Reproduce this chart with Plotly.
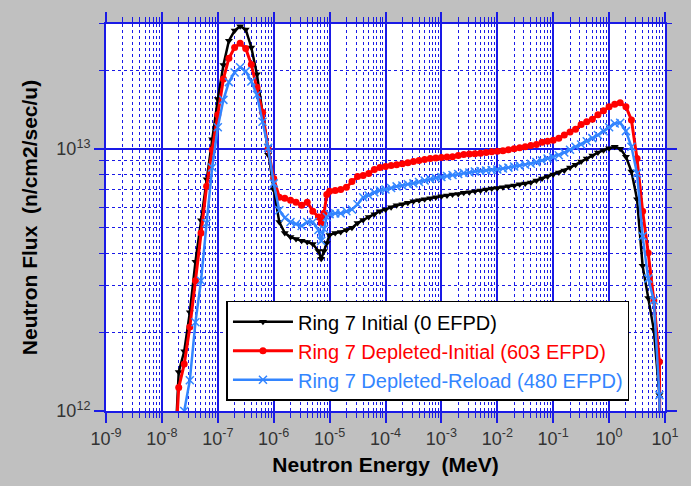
import plotly.graph_objects as go

# Neutron energy grid (MeV), ten points per decade plus two extra points around the 6.7 eV resonance dip
energy_mev = [
    1.58e-8, 2.00e-8, 2.51e-8, 3.16e-8, 3.98e-8, 5.01e-8, 6.31e-8, 7.94e-8,
    1.00e-7, 1.26e-7, 1.58e-7, 2.00e-7, 2.51e-7, 3.16e-7, 3.98e-7, 5.01e-7, 6.31e-7, 7.94e-7,
    1.00e-6, 1.26e-6, 1.58e-6, 2.00e-6, 2.51e-6, 3.16e-6, 3.98e-6, 5.01e-6, 6.31e-6, 7.08e-6, 7.94e-6, 8.91e-6,
    1.00e-5, 1.26e-5, 1.58e-5, 2.00e-5, 2.51e-5, 3.16e-5, 3.98e-5, 5.01e-5, 6.31e-5, 7.94e-5,
    1.00e-4, 1.26e-4, 1.58e-4, 2.00e-4, 2.51e-4, 3.16e-4, 3.98e-4, 5.01e-4, 6.31e-4, 7.94e-4,
    1.00e-3, 1.26e-3, 1.58e-3, 2.00e-3, 2.51e-3, 3.16e-3, 3.98e-3, 5.01e-3, 6.31e-3, 7.94e-3,
    1.00e-2, 1.26e-2, 1.58e-2, 2.00e-2, 2.51e-2, 3.16e-2, 3.98e-2, 5.01e-2, 6.31e-2, 7.94e-2,
    1.00e-1, 1.26e-1, 1.58e-1, 2.00e-1, 2.51e-1, 3.16e-1, 3.98e-1, 5.01e-1, 6.31e-1, 7.94e-1,
    1.00, 1.26, 1.58, 2.00, 2.51, 3.16, 3.98, 5.01, 6.31, 7.94, 8.51,
]

# Flux per unit lethargy, in units of 1e12 n/cm2/sec/u
FLUX_UNIT = 1e12

flux_initial = [
    0.5, 1.41, 1.69, 2.38, 3.71, 5.35, 7.67, 10.9,
    15.5, 20.9, 25.9, 28.3, 29.4, 28.6, 24.4, 19.3, 13.6, 9.51,
    7.01, 5.26, 4.78, 4.61, 4.53, 4.46, 4.42, 4.34, 4.08, 3.81, 4.08, 4.38,
    4.70, 4.78, 4.82, 4.91, 5.00, 5.22, 5.36, 5.50, 5.64, 5.79,
    5.88, 5.99, 6.10, 6.15, 6.24, 6.32, 6.37, 6.43, 6.48, 6.54,
    6.60, 6.65, 6.71, 6.74, 6.80, 6.83, 6.89, 6.95, 7.01, 7.07,
    7.10, 7.14, 7.20, 7.26, 7.33, 7.39, 7.45, 7.58, 7.72, 7.85,
    7.99, 8.14, 8.28, 8.49, 8.71, 8.95, 9.19, 9.44, 9.69, 9.90,
    10.07, 10.2, 10.03, 9.35, 8.20, 6.43, 3.58, 2.70, 2.04, 1.15, 0.2,
]

flux_depleted_initial = [
    0.5, 1.23, 1.51, 2.09, 3.14, 4.78, 7.20, 9.94,
    13.5, 18.5, 22.2, 24.4, 25.3, 24.2, 21.0, 17.2, 13.8, 10.0,
    7.72, 6.54, 6.48, 6.37, 6.26, 6.10, 6.26, 5.79, 5.50, 5.22, 5.68, 6.71,
    6.89, 6.95, 7.01, 7.14, 7.52, 7.85, 7.92, 8.06, 8.35, 8.49,
    8.57, 8.64, 8.71, 8.79, 8.87, 8.95, 9.03, 9.11, 9.19, 9.23,
    9.27, 9.31, 9.35, 9.44, 9.52, 9.56, 9.60, 9.64, 9.69, 9.77,
    9.81, 9.85, 9.94, 10.03, 10.11, 10.2, 10.3, 10.4, 10.6, 10.7,
    10.8, 11.0, 11.3, 11.6, 11.9, 12.4, 12.7, 13.0, 13.5, 14.0,
    14.5, 14.8, 15.0, 14.5, 12.9, 9.19, 5.79, 4.01, 2.64, 1.54, 0.2,
]

flux_depleted_reload = [
    0.1, 0.3, 1.0, 1.31, 2.18, 3.14, 5.21, 8.50,
    12.1, 15.4, 18.0, 19.6, 20.5, 19.8, 18.1, 16.1, 12.7, 10.1,
    7.39, 5.84, 5.46, 5.26, 5.17, 5.08, 5.26, 5.26, 4.91, 4.46, 4.95, 5.50,
    5.64, 5.68, 5.68, 5.79, 5.88, 6.15, 6.54, 6.65, 6.83, 6.95,
    7.01, 7.10, 7.20, 7.26, 7.33, 7.39, 7.48, 7.58, 7.68, 7.75,
    7.82, 7.89, 7.95, 8.03, 8.10, 8.13, 8.20, 8.24, 8.28, 8.31,
    8.35, 8.42, 8.49, 8.57, 8.64, 8.71, 8.79, 8.91, 9.03, 9.19,
    9.31, 9.47, 9.69, 9.94, 10.2, 10.4, 10.7, 11.0, 11.3, 11.7,
    12.1, 12.5, 12.6, 11.7, 10.2, 8.06, 4.65, 3.20, 2.64, 1.15, 0.2,
]

series_names = [
    "Ring 7 Initial (0 EFPD)",
    "Ring 7 Depleted-Initial (603 EFPD)",
    "Ring 7 Depleted-Reload (480 EFPD)",
]

# Decade tick positions (powers of ten) and their labels
x_tick_exponents = [-9, -8, -7, -6, -5, -4, -3, -2, -1, 0, 1]
y_tick_exponents = [12, 13]

BLACK = "#000000"
RED = "#ff0000"
BLUE = "#3385ff"
GRID_BLUE = "#1a1ae6"
FONT = "Liberation Sans, Arial, sans-serif"


def power_labels(exponents):
    return [f"10<sup>{e}</sup>" for e in exponents]


fig = go.Figure()

styles = [
    (flux_initial, BLACK, dict(symbol="triangle-down", size=7, color=BLACK), 2.5),
    (flux_depleted_initial, RED, dict(symbol="circle", size=7, color=RED), 3),
    (flux_depleted_reload, BLUE,
     dict(symbol="x-thin", size=8, color=BLUE, line=dict(width=1.5, color=BLUE)), 2.5),
]

for name, (values, color, marker, width) in zip(series_names, styles):
    fig.add_trace(go.Scatter(
        x=energy_mev,
        y=[v * FLUX_UNIT for v in values],
        mode="lines+markers",
        name=f'<span style="color:{color}">{name}</span>',
        line=dict(color=color, width=width),
        marker=marker,
    ))

axis_common = dict(
    type="log",
    showline=True,
    linecolor=GRID_BLUE,
    linewidth=2,
    mirror="allticks",
    ticks="outside",
    ticklen=10,
    tickwidth=1.5,
    tickcolor=GRID_BLUE,
    showgrid=True,
    gridcolor=GRID_BLUE,
    gridwidth=1.5,
    tickmode="array",
    tickfont=dict(family=FONT, size=18, color="#333333"),
    minor=dict(
        dtick="D1",
        ticks="outside",
        ticklen=5,
        tickcolor=GRID_BLUE,
        tickwidth=1,
        showgrid=True,
        gridcolor=GRID_BLUE,
        gridwidth=1,
        griddash="dot",
    ),
    zeroline=False,
)

fig.update_xaxes(
    **axis_common,
    range=[-9, 1],
    tickvals=[10.0 ** e for e in x_tick_exponents],
    ticktext=power_labels(x_tick_exponents),
    title=dict(text="Neutron Energy\u00a0 (MeV)",
               font=dict(family=FONT, size=21, color="#000000", weight="bold"),
               standoff=10),
)
fig.update_yaxes(
    **axis_common,
    range=[12, 13.477],
    tickvals=[10.0 ** e for e in y_tick_exponents],
    ticktext=power_labels(y_tick_exponents),
    title=dict(text="Neutron Flux\u00a0 (n/cm2/sec/u)",
               font=dict(family=FONT, size=21, color="#000000", weight="bold"),
               standoff=13),
)

fig.update_layout(
    width=691,
    height=486,
    margin=dict(l=106, r=19, t=22, b=75),
    paper_bgcolor="#c0c0c0",
    plot_bgcolor="#ffffff",
    font=dict(family=FONT),
    legend=dict(
        x=0.2155, y=0.285, xanchor="left", yanchor="top",
        bgcolor="#ffffff",
        bordercolor="#000000",
        borderwidth=1.5,
        font=dict(family=FONT, size=20),
        itemwidth=60,
        tracegroupgap=0,
    ),
)

fig.write_html("out.html")
